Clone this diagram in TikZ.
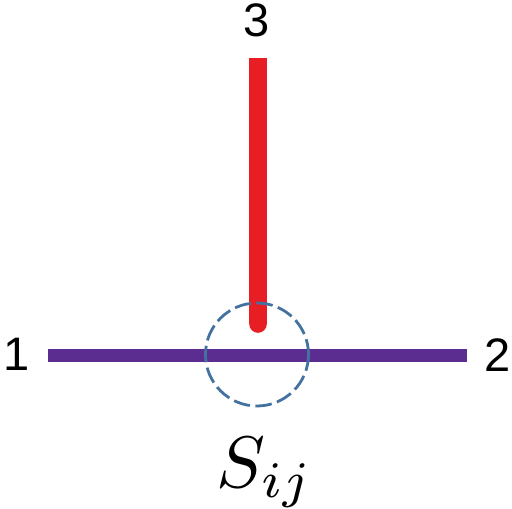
\documentclass[tikz,border=0pt]{standalone}
\usepackage{graphicx}
\usepackage{fontspec}
\setmainfont{Liberation Sans}
\definecolor{redbar}{RGB}{232,30,37}
\definecolor{purplebar}{RGB}{92,45,145}
\definecolor{circblue}{RGB}{68,114,160}
\begin{document}
\begin{tikzpicture}[x=1pt,y=-1pt,
  numlabel/.style={font=\fontsize{47}{50}\selectfont, inner sep=0pt},
  dashcirc/.style={draw=circblue, line width=2.8pt, dash pattern=on 16.5pt off 5.5pt}]
\useasboundingbox (0,0) rectangle (512,509);
% red bar
\fill[redbar] (249.2,58) -- (266.8,58) -- (266.8,324) arc[start angle=0,end angle=180,radius=8.8] -- cycle;
% purple bar
\coordinate (pl) at (48,355.5);
\coordinate (pr) at (467,355.5);
\draw[purplebar, line width=12.5pt] (pl) -- (pr);
% dashed circle
\draw[dashcirc] (257,354.5) circle[radius=51.5];
% labels
\node[numlabel] (n1) at (16.5,354.5) {1};
\node[numlabel] (n2) at (497.5,355) {2};
\node[numlabel] (n3) at (256.5,20) {3};
\node[inner sep=0pt, anchor=base] (s) at (265,487) {\scalebox{7.3}{$S_{ij}$}};
\end{tikzpicture}
\end{document}
